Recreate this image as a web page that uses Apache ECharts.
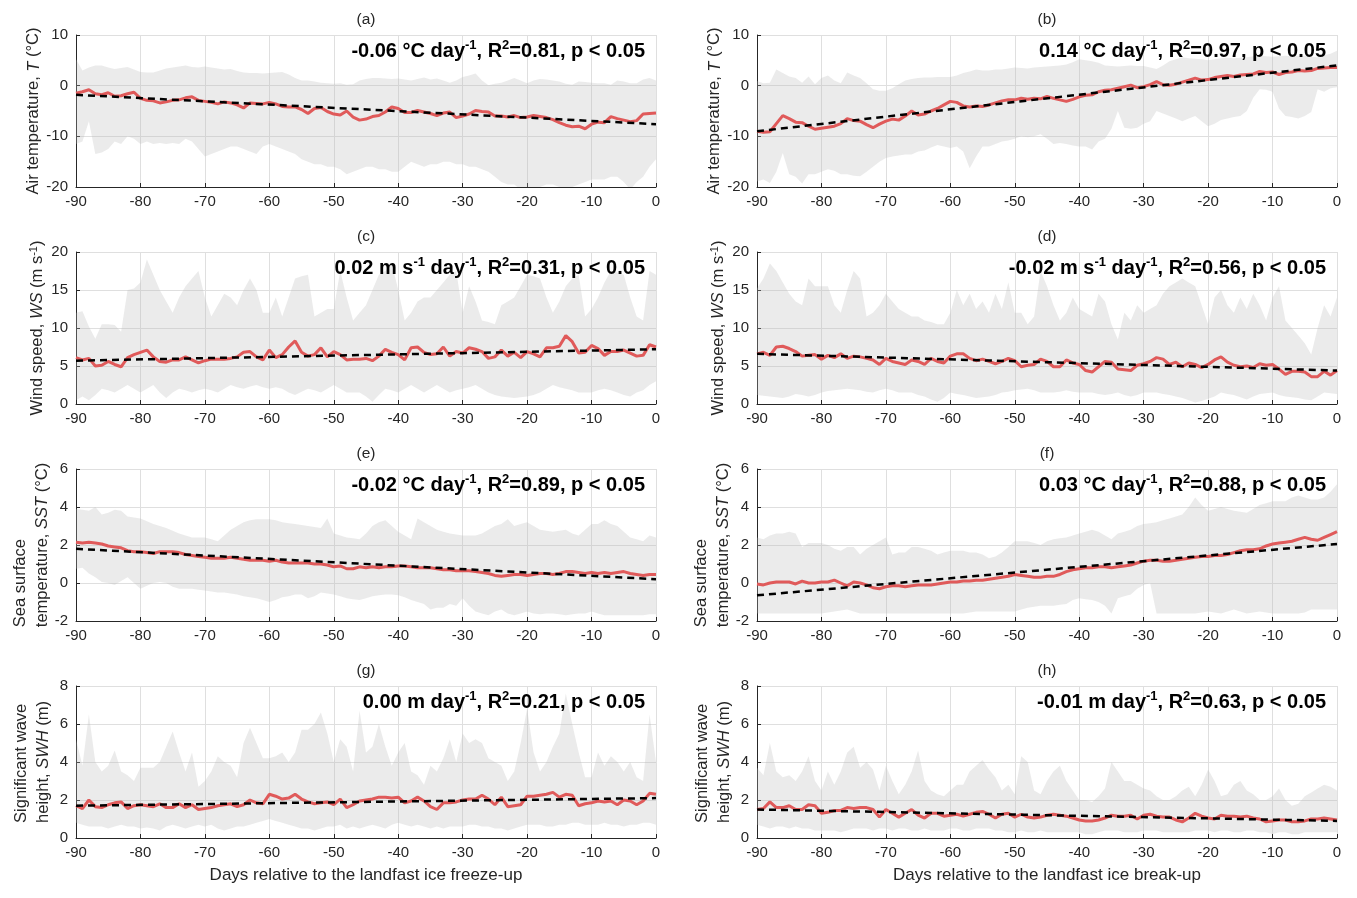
<!DOCTYPE html>
<html><head><meta charset="utf-8">
<script src="https://cdn.jsdelivr.net/npm/echarts@6/dist/echarts.min.js"></script>
<style>html,body{margin:0;padding:0;background:#fff}#c{width:1357px;height:898px}</style>
</head><body><div id="c"></div>
<script>
// ---------------- DATA ----------------
const days = [-90,-89,-88,-87,-86,-85,-84,-83,-82,-81,-80,-79,-78,-77,-76,-75,-74,-73,-72,-71,
-70,-69,-68,-67,-66,-65,-64,-63,-62,-61,-60,-59,-58,-57,-56,-55,-54,-53,-52,-51,
-50,-49,-48,-47,-46,-45,-44,-43,-42,-41,-40,-39,-38,-37,-36,-35,-34,-33,-32,-31,
-30,-29,-28,-27,-26,-25,-24,-23,-22,-21,-20,-19,-18,-17,-16,-15,-14,-13,-12,-11,
-10,-9,-8,-7,-6,-5,-4,-3,-2,-1,0];

// (a) Air temperature, freeze-up
const aMean = [-1.5,-1.2,-0.8,-1.6,-1.8,-1.4,-2.1,-2.0,-1.6,-1.3,
-2.5,-2.9,-3.0,-3.4,-3.2,-2.9,-2.8,-2.4,-2.2,-2.9,
-3.1,-3.3,-3.6,-3.2,-3.4,-3.8,-4.4,-3.4,-3.5,-3.6,
-3.3,-3.6,-4.1,-4.2,-4.2,-4.7,-5.5,-4.5,-4.3,-5.1,
-5.6,-5.8,-5.0,-6.2,-6.8,-6.6,-6.1,-5.9,-5.2,-4.2,
-4.5,-5.3,-5.3,-4.9,-5.2,-5.5,-5.9,-5.4,-5.2,-6.3,
-6.0,-5.6,-4.9,-5.1,-5.2,-6.0,-6.0,-6.2,-5.9,-6.3,
-6.2,-5.9,-6.1,-6.3,-6.7,-7.3,-7.8,-8.1,-8.0,-8.5,
-7.6,-7.2,-7.3,-6.1,-6.5,-6.8,-7.1,-6.9,-5.6,-5.5,
-5.4];
const aUpper = [5.2,3.0,3.6,4.0,4.0,3.6,3.3,3.5,3.7,3.2,
2.7,2.6,2.6,3.0,3.4,3.6,3.8,4.0,3.7,3.6,
3.8,3.6,3.4,3.2,3.3,2.9,2.6,2.5,2.5,2.4,
2.5,2.6,2.7,2.2,1.5,1.0,1.0,0.8,0.6,0.5,
0.4,0.5,0.2,0.3,1.0,1.3,1.5,1.5,1.4,1.3,
1.4,1.2,1.0,1.3,1.6,1.2,1.4,1.0,0.6,1.0,
1.7,2.0,2.4,1.0,0.1,0.4,0.6,1.0,1.5,1.0,
0.5,1.0,1.3,1.2,1.0,0.8,0.4,0.2,0.8,0.7,
0.6,0.5,0.5,0.2,1.0,0.8,0.5,0.5,1.2,1.5,
1.0];
const aLower = [-11.5,-11.0,-7.0,-13.5,-13.2,-12.5,-11.0,-11.5,-10.0,-10.5,
-11.5,-11.0,-11.5,-11.3,-11.5,-11.3,-11.5,-10.5,-11.0,-12.5,
-14.0,-13.5,-13.0,-12.5,-12.0,-12.0,-12.5,-13.0,-13.5,-12.0,
-11.5,-12.0,-12.5,-13.0,-13.5,-14.5,-15.0,-15.5,-15.5,-16.0,
-16.0,-16.5,-17.5,-17.0,-16.5,-16.0,-16.0,-16.5,-16.5,-17.0,
-17.0,-16.0,-15.0,-15.5,-16.0,-15.5,-15.5,-15.0,-15.0,-15.5,
-15.5,-16.0,-16.0,-16.5,-17.0,-18.0,-19.0,-19.5,-19.5,-20.5,
-20.5,-20.5,-20.0,-19.5,-19.5,-20.0,-20.5,-20.0,-19.5,-19.0,
-18.5,-18.5,-18.5,-18.0,-18.0,-19.0,-20.5,-19.0,-18.0,-16.0,
-14.5];
const aTrend = [-1.8, -7.6];

// (b) Air temperature, break-up
const bMean = [-9.0,-9.2,-9.1,-7.5,-5.9,-6.5,-7.2,-7.3,-8.0,-8.6,
-8.4,-8.2,-8.0,-7.5,-6.5,-6.9,-7.0,-7.7,-8.3,-7.6,
-7.0,-6.6,-6.8,-6.0,-5.0,-5.8,-5.6,-5.0,-4.5,-3.8,
-3.1,-3.3,-4.0,-4.2,-4.0,-4.1,-3.8,-3.4,-3.0,-2.8,
-2.8,-2.5,-2.7,-2.5,-2.6,-2.1,-2.5,-2.8,-3.1,-2.7,
-2.2,-1.9,-1.8,-1.2,-0.9,-0.8,-0.5,-0.2,0.1,-0.4,
-0.2,0.2,0.8,0.2,0.1,0.3,0.7,1.1,1.5,1.1,
1.2,1.6,1.8,2.0,1.8,2.1,2.2,2.3,2.8,2.6,
2.7,2.2,2.6,2.7,3.0,2.9,3.0,3.4,3.5,3.6,
3.6];
const bUpper = [0.9,0.5,0.6,3.2,2.5,1.8,1.5,0.6,1.8,0.3,
1.5,2.0,1.0,0.5,2.6,2.0,1.5,0.5,-0.7,-1.0,
-1.0,-0.5,0.3,1.0,1.3,1.5,1.6,1.6,1.7,1.7,
1.7,2.0,2.5,2.8,3.2,3.0,3.0,3.2,3.2,3.4,
3.6,3.5,3.4,3.6,3.7,3.8,3.9,4.0,4.2,4.6,
5.2,5.0,4.8,4.5,4.0,3.9,3.8,3.9,4.0,3.9,
3.9,3.6,3.3,4.0,4.8,5.2,5.6,5.4,5.3,5.2,
5.0,5.2,5.4,5.5,5.4,5.5,5.6,5.8,5.9,5.8,
5.7,5.8,5.9,5.8,5.9,5.9,5.7,5.6,6.0,6.3,
6.9];
const bLower = [-18.9,-18.5,-19.2,-17.0,-13.3,-17.5,-18.0,-19.3,-17.5,-17.5,
-17.0,-16.5,-16.8,-17.5,-17.5,-17.8,-17.9,-17.0,-16.0,-15.0,
-14.3,-14.0,-13.8,-13.6,-13.6,-13.0,-12.8,-12.2,-11.7,-12.0,
-12.3,-12.0,-13.0,-16.3,-14.0,-12.0,-12.0,-11.5,-11.0,-10.8,
-10.5,-10.0,-10.2,-10.0,-9.6,-10.5,-11.5,-11.3,-11.5,-11.8,
-12.0,-12.0,-12.6,-11.0,-10.5,-8.5,-5.0,-8.3,-8.5,-8.3,
-7.5,-7.0,-5.0,-5.5,-6.0,-6.5,-7.0,-6.5,-6.0,-7.0,
-8.0,-7.5,-6.8,-6.5,-6.2,-6.0,-5.0,-2.4,-0.7,-0.8,
-1.2,-4.5,-6.0,-6.2,-6.5,-6.0,-5.2,-0.7,-1.2,-0.5,
-0.3];
const bTrend = [-9.0, 4.0];

// (c) Wind speed, freeze-up
const cMean = [6.1,5.8,6.0,5.0,5.1,5.6,5.2,4.9,6.1,6.5,
6.8,7.1,6.2,5.6,5.5,5.8,5.8,6.2,5.8,5.4,
5.7,5.9,5.9,5.9,6.0,6.2,6.8,6.9,6.2,5.8,
7.1,6.1,6.5,7.5,8.3,6.8,6.3,6.5,7.4,6.2,
6.9,6.5,5.8,5.9,5.9,6.0,5.7,6.3,7.2,6.8,
6.5,5.8,7.4,7.5,6.8,6.5,6.6,7.5,6.3,6.9,
6.7,7.4,7.2,6.9,6.0,6.2,7.1,6.3,6.8,6.1,
6.9,6.6,6.2,7.4,7.4,7.6,9.0,8.2,6.7,6.8,
7.7,7.3,6.4,6.9,6.9,7.1,6.7,6.3,6.4,7.8,
7.5];
const cUpper = [12.0,12.2,10.2,8.6,10.5,10.5,10.4,9.5,15.0,15.2,
16.0,19.0,17.0,15.0,13.5,12.0,14.0,15.5,16.5,17.5,
14.0,11.5,13.0,14.5,14.0,13.0,15.0,16.5,15.0,12.0,
12.0,14.0,11.5,14.0,16.5,16.8,17.0,11.5,12.0,12.5,
12.5,17.5,14.0,11.0,12.0,13.0,15.0,17.0,17.5,18.5,
15.0,11.0,12.0,13.5,14.0,14.0,15.0,16.0,17.0,17.5,
12.0,15.5,13.5,11.0,10.8,10.5,13.0,13.5,14.0,15.5,
17.0,16.8,16.5,14.0,12.0,13.5,15.5,16.5,17.0,11.5,
12.5,14.0,16.0,17.5,17.3,17.0,14.0,11.5,11.0,17.5,
17.0];
const cLower = [0.5,1.0,0.5,1.2,2.0,1.8,1.5,2.0,2.5,2.0,
1.5,2.0,2.5,1.5,0.8,1.5,2.0,1.8,1.5,1.8,
2.0,1.8,1.5,2.0,2.5,2.2,2.0,2.3,2.5,2.2,
2.0,2.2,2.0,1.5,1.2,1.6,2.0,1.8,1.5,2.0,
2.5,2.0,1.5,1.5,1.5,1.0,0.3,1.2,2.0,1.8,
1.5,2.0,2.5,2.0,1.5,2.0,2.5,2.0,1.5,1.8,
2.0,2.2,2.5,2.0,1.5,1.2,1.0,0.9,0.8,0.9,
1.0,1.2,1.5,2.0,2.5,2.2,2.0,1.8,1.5,1.5,
1.5,1.8,2.0,1.8,1.5,1.2,1.0,1.5,1.8,2.5,
3.0];
const cTrend = [5.7, 7.2];

// (d) Wind speed, break-up
const dMean = [6.6,6.8,6.4,7.5,7.6,7.3,6.9,6.3,6.4,6.5,
5.9,6.4,6.1,6.6,6.0,6.3,6.2,6.0,5.8,5.2,
6.0,5.6,5.4,5.2,5.8,5.6,5.2,6.0,5.6,5.4,
6.3,6.6,6.6,6.0,5.7,5.9,5.6,5.3,5.6,6.0,
5.7,4.9,5.1,5.2,5.9,5.6,4.9,4.9,5.8,5.4,
5.2,4.4,4.2,4.9,5.6,5.5,4.6,4.5,4.4,5.1,
5.3,5.6,6.1,5.9,5.2,5.5,4.9,5.4,5.2,4.8,
5.2,5.8,6.2,5.5,5.1,4.9,5.0,4.8,5.3,5.1,
5.2,4.6,3.9,4.3,4.3,4.2,3.6,3.6,4.3,3.8,
4.4];
const dUpper = [15.2,16.5,18.5,17.5,16.0,14.5,13.5,13.0,16.5,15.5,
15.5,15.5,13.0,12.0,15.0,17.5,16.5,11.5,12.0,13.0,
14.5,13.5,12.5,12.0,11.5,11.5,11.0,10.8,10.5,10.5,
12.0,15.0,13.0,14.5,12.5,13.5,12.0,14.5,12.5,16.0,
12.0,12.0,10.5,11.5,17.5,15.5,13.0,11.0,12.0,14.0,
12.5,12.0,11.5,14.5,13.5,10.5,8.5,12.0,11.0,13.0,
12.0,12.5,13.0,14.5,15.5,16.0,16.5,16.0,15.5,13.0,
10.5,14.0,15.0,13.0,12.0,14.0,12.5,14.5,13.0,11.0,
14.0,15.5,11.0,10.0,9.0,8.0,6.5,10.0,13.0,11.5,
14.0];
const dLower = [1.2,1.1,1.0,0.9,0.8,1.0,1.3,1.2,1.0,1.2,
1.5,1.7,1.8,1.9,2.0,1.9,1.8,1.6,1.5,1.8,
2.0,1.8,1.5,1.5,1.5,1.2,1.0,0.6,0.3,0.8,
1.5,1.3,1.2,1.0,0.8,0.9,1.0,1.2,1.5,1.6,
1.8,1.9,2.0,1.8,1.5,1.5,1.5,1.6,1.8,1.6,
1.5,1.5,1.5,1.3,1.2,1.3,1.5,1.2,1.0,1.2,
1.5,1.5,1.5,1.3,1.2,1.0,0.8,0.5,0.2,0.4,
0.7,1.0,1.5,1.3,1.2,0.9,0.6,1.0,1.3,1.4,
1.5,1.2,1.0,0.9,0.8,0.6,0.5,1.0,1.5,1.4,
1.3];
const dTrend = [6.6, 4.4];

// (e) SST, freeze-up
const eMean = [2.15,2.1,2.15,2.1,2.05,1.95,1.9,1.85,1.7,1.65,
1.65,1.6,1.55,1.65,1.65,1.65,1.6,1.5,1.45,1.4,
1.35,1.3,1.3,1.3,1.35,1.3,1.25,1.2,1.2,1.2,
1.15,1.2,1.1,1.05,1.05,1.05,1.05,1.0,1.0,0.95,
0.85,0.9,0.75,0.75,0.85,0.8,0.85,0.8,0.85,0.85,
0.9,0.9,0.85,0.8,0.8,0.8,0.75,0.7,0.7,0.65,
0.65,0.65,0.6,0.55,0.5,0.4,0.35,0.4,0.45,0.45,
0.4,0.45,0.5,0.5,0.45,0.5,0.6,0.6,0.55,0.5,
0.55,0.5,0.55,0.5,0.55,0.6,0.5,0.45,0.4,0.45,
0.45];
const eUpper = [3.9,3.85,3.8,4.0,3.6,3.7,3.85,3.8,3.5,3.45,
3.4,3.25,3.1,3.0,2.9,2.75,2.6,2.5,2.4,2.4,
2.4,2.3,2.2,2.5,2.8,3.0,3.2,3.3,3.35,3.35,
3.35,3.3,3.2,3.15,3.1,3.05,3.0,2.95,2.9,3.4,
2.6,2.5,2.4,2.35,2.3,2.6,3.0,3.2,3.3,3.0,
2.7,2.5,2.3,3.4,3.2,3.0,2.8,2.7,2.6,2.55,
2.5,2.5,2.5,2.6,2.8,3.0,3.1,3.35,3.0,3.1,
3.2,3.0,2.8,2.75,2.7,2.75,2.8,2.6,2.5,2.8,
3.1,3.1,3.3,3.1,3.0,2.7,2.4,2.3,2.2,2.5,
2.4];
const eLower = [0.75,0.8,0.5,0.3,0.05,0.0,-0.1,0.1,0.3,0.0,
-0.3,-0.15,0.0,0.05,0.0,-0.2,-0.3,-0.3,-0.3,-0.35,
-0.4,-0.45,-0.5,-0.5,-0.55,-0.6,-0.7,-0.75,-0.8,-0.9,
-1.0,-0.9,-0.75,-0.7,-0.6,-0.6,-0.8,-0.7,-0.5,-0.55,
-0.6,-0.7,-0.8,-0.85,-0.9,-0.8,-0.7,-0.65,-0.6,-0.6,
-0.65,-0.75,-0.9,-1.0,-1.1,-1.4,-1.3,-1.3,-1.1,-1.2,
-0.8,-1.2,-1.5,-1.6,-1.7,-1.5,-1.4,-1.6,-1.7,-1.6,
-1.5,-1.6,-1.65,-1.6,-1.6,-1.65,-1.7,-1.65,-1.6,-1.6,
-1.5,-1.6,-1.7,-1.7,-1.7,-1.7,-1.7,-1.7,-1.7,-1.65,
-1.65];
const eTrend = [1.8, 0.2];

// (f) SST, break-up
const fMean = [-0.05,-0.1,0.0,0.05,0.05,0.05,-0.05,0.1,0.0,0.0,
0.05,0.05,0.15,0.0,-0.15,0.05,0.0,-0.1,-0.25,-0.3,
-0.2,-0.15,-0.15,-0.2,-0.15,-0.1,-0.1,-0.1,-0.05,0.0,
0.05,0.05,0.1,0.1,0.15,0.15,0.2,0.25,0.3,0.35,
0.45,0.4,0.35,0.3,0.3,0.35,0.35,0.45,0.6,0.7,
0.75,0.8,0.8,0.85,0.85,0.8,0.85,0.9,0.95,1.05,
1.15,1.2,1.2,1.15,1.15,1.2,1.25,1.3,1.35,1.4,
1.4,1.45,1.45,1.5,1.6,1.7,1.75,1.75,1.8,1.95,
2.05,2.1,2.15,2.2,2.3,2.4,2.3,2.25,2.4,2.55,
2.7];
const fUpper = [2.4,2.3,2.5,2.6,2.6,2.7,2.6,1.9,2.1,2.1,
2.1,2.0,1.8,1.7,1.9,1.9,1.5,1.8,2.0,2.2,
2.4,1.5,1.6,1.6,1.9,1.9,1.8,1.7,1.5,1.6,
1.7,1.7,1.7,1.6,1.6,1.5,1.3,1.4,1.6,1.9,
2.2,2.2,2.2,2.1,2.0,2.2,2.3,2.35,2.4,2.5,
2.6,2.7,2.8,2.7,2.5,2.3,2.6,2.7,2.8,3.0,
3.1,3.15,3.2,3.3,3.4,3.5,3.6,4.0,4.5,4.1,
3.8,3.9,4.0,3.9,3.8,3.75,3.7,3.9,4.1,4.2,
4.3,4.3,4.3,4.5,4.6,4.5,4.4,4.4,4.5,4.8,
5.2];
const fLower = [-1.6,-1.6,-1.6,-1.6,-1.6,-1.6,-1.6,-1.6,-1.6,-1.6,
-1.6,-1.55,-1.5,-1.45,-1.4,-1.5,-1.6,-1.6,-1.6,-1.6,
-1.6,-1.6,-1.6,-1.6,-1.6,-1.6,-1.6,-1.6,-1.6,-1.6,
-1.6,-1.6,-1.6,-1.55,-1.5,-1.5,-1.5,-1.5,-1.5,-1.5,
-1.5,-1.4,-1.3,-1.25,-1.2,-1.2,-1.2,-1.15,-1.1,-0.9,
-0.8,-0.85,-0.9,-1.0,-1.2,-1.6,-0.8,-0.7,-0.6,-0.3,
-0.1,0.0,-1.6,-1.6,-1.6,-1.6,-1.6,-1.6,-1.6,-1.55,
-1.5,-1.55,-1.6,-1.5,-1.4,-1.5,-1.6,-1.55,-1.5,-1.55,
-1.6,-1.6,-1.6,-1.6,-1.6,-1.55,-1.4,-1.4,-1.4,-1.4,
-1.4];
const fTrend = [-0.65, 2.05];

// (g) SWH, freeze-up
const gMean = [1.7,1.55,2.0,1.65,1.6,1.75,1.85,1.9,1.55,1.7,
1.75,1.7,1.65,1.8,1.6,1.6,1.8,1.6,1.75,1.5,
1.55,1.6,1.7,1.75,1.8,1.65,1.75,2.0,1.85,1.8,
2.3,2.2,2.05,2.1,2.3,2.05,1.9,1.8,1.85,1.9,
1.75,2.05,1.6,1.75,1.95,2.0,2.05,2.15,2.15,2.1,
2.15,1.85,1.95,2.15,1.95,1.65,1.5,1.85,1.85,1.9,
2.0,2.05,2.05,2.25,2.05,1.75,2.15,1.65,1.7,1.75,
2.2,2.2,2.25,2.3,2.4,2.15,2.3,2.25,1.7,1.8,
1.85,1.95,1.9,1.95,1.75,2.0,1.95,1.75,1.95,2.35,
2.3];
const gUpper = [5.2,3.8,6.5,4.0,3.5,3.8,4.6,3.5,3.3,3.0,
3.7,3.7,3.7,4.0,4.8,5.6,4.5,3.5,4.5,2.7,
3.0,3.5,4.3,4.0,3.8,3.2,5.0,5.8,5.0,4.2,
4.2,4.3,4.5,4.0,4.5,5.7,5.7,6.0,6.6,5.5,
4.0,5.2,4.8,3.5,6.7,4.5,4.8,6.0,4.8,3.8,
4.5,5.0,3.5,3.3,2.8,3.8,3.5,4.2,5.2,4.0,
5.5,5.0,5.2,5.0,4.2,4.0,3.8,3.0,3.5,5.0,
6.8,4.5,3.5,4.0,4.8,5.5,7.6,6.0,4.5,3.2,
3.2,4.5,3.8,4.3,4.0,3.5,4.0,3.2,3.0,6.5,
4.0];
const gLower = [0.8,0.7,0.6,0.6,0.6,0.5,0.6,0.7,0.6,0.6,
0.5,0.55,0.5,0.4,0.6,0.7,0.6,0.5,0.6,0.7,
0.6,0.7,0.5,0.4,0.5,0.6,0.6,0.7,0.8,0.9,
1.0,0.9,0.8,0.7,0.6,0.5,0.5,0.4,0.5,0.6,
0.6,0.7,0.5,0.6,0.5,0.6,0.7,0.6,0.5,0.7,
0.8,0.7,0.6,0.7,0.6,0.5,0.6,0.5,0.6,0.6,
0.6,0.7,0.7,0.6,0.6,0.5,0.5,0.4,0.5,0.6,
0.7,0.7,0.7,0.6,0.6,0.7,0.7,0.8,0.8,0.7,
0.7,0.7,0.8,0.7,0.7,0.6,0.7,0.7,0.8,0.8,
0.7];
const gTrend = [1.7, 2.1];

// (h) SWH, break-up
const hMean = [1.5,1.55,1.9,1.6,1.6,1.7,1.5,1.5,1.75,1.7,
1.3,1.35,1.45,1.45,1.6,1.55,1.6,1.6,1.5,1.1,
1.5,1.3,1.1,1.3,1.5,1.2,1.05,1.3,1.3,1.15,
1.2,1.25,1.15,1.25,1.35,1.4,1.25,1.05,1.25,1.3,
1.1,1.25,1.1,1.05,1.1,1.2,1.25,1.2,1.15,1.05,
0.95,0.9,0.9,0.95,1.05,1.2,1.15,1.15,1.2,1.0,
1.2,1.25,1.15,1.1,1.1,0.95,0.85,1.05,1.3,1.15,
1.05,1.0,1.2,1.15,1.15,1.1,1.15,1.05,1.0,0.85,
0.9,0.95,0.95,0.85,0.85,0.9,1.0,1.0,1.05,1.0,
0.95];
const hUpper = [3.7,3.3,5.0,3.5,3.2,3.3,3.0,3.5,4.3,3.0,
2.5,3.5,2.8,3.5,4.5,4.8,3.7,4.0,3.6,2.5,
3.8,3.0,2.3,2.8,3.5,4.6,3.0,2.5,2.3,2.2,
2.5,2.8,2.8,3.5,3.8,4.1,3.6,3.2,2.5,2.8,
2.3,4.3,4.0,2.5,2.3,3.0,3.5,3.8,3.0,2.5,
2.0,2.0,1.9,2.2,2.6,4.0,3.5,3.0,3.0,2.8,
2.6,2.5,2.2,2.0,2.0,2.2,2.5,2.7,2.2,2.8,
3.6,3.0,2.2,2.3,2.8,3.0,2.5,2.3,2.0,2.0,
2.2,2.6,2.0,1.7,1.8,2.2,2.4,2.6,2.8,2.7,
2.5];
const hLower = [0.7,0.6,0.5,0.6,0.6,0.5,0.6,0.5,0.5,0.4,
0.4,0.4,0.4,0.3,0.4,0.5,0.5,0.5,0.4,0.5,
0.5,0.4,0.5,0.5,0.4,0.4,0.5,0.4,0.4,0.4,
0.5,0.5,0.4,0.4,0.5,0.5,0.5,0.4,0.4,0.3,
0.3,0.4,0.3,0.3,0.4,0.3,0.3,0.3,0.3,0.3,
0.3,0.2,0.2,0.3,0.4,0.4,0.4,0.3,0.3,0.3,
0.4,0.4,0.4,0.3,0.3,0.3,0.3,0.3,0.4,0.4,
0.4,0.3,0.4,0.4,0.3,0.3,0.4,0.4,0.3,0.3,
0.2,0.3,0.3,0.2,0.2,0.3,0.3,0.3,0.3,0.3,
0.3];
const hTrend = [1.5, 0.9];

// Labels / texts
const panelLetters = ['(a)','(b)','(c)','(d)','(e)','(f)','(g)','(h)'];
const trendNotes = [
  '{b|-0.06 °C day}{s|-1}{b|, R}{s|2}{b|=0.81, p < 0.05}',
  '{b|0.14 °C day}{s|-1}{b|, R}{s|2}{b|=0.97, p < 0.05}',
  '{b|0.02 m s}{s|-1}{b| day}{s|-1}{b|, R}{s|2}{b|=0.31, p < 0.05}',
  '{b|-0.02 m s}{s|-1}{b| day}{s|-1}{b|, R}{s|2}{b|=0.56, p < 0.05}',
  '{b|-0.02 °C day}{s|-1}{b|, R}{s|2}{b|=0.89, p < 0.05}',
  '{b|0.03 °C day}{s|-1}{b|, R}{s|2}{b|=0.88, p < 0.05}',
  '{b|0.00 m day}{s|-1}{b|, R}{s|2}{b|=0.21, p < 0.05}',
  '{b|-0.01 m day}{s|-1}{b|, R}{s|2}{b|=0.63, p < 0.05}'
];
const yNames = [
  '{n|Air temperature, }{i|T}{n| (°C)}',
  '{n|Wind speed, }{i|WS}{n| (m s}{s|-1}{n|)}',
  '{n|Sea surface}\n{n|temperature, }{i|SST}{n| (°C)}',
  '{n|Significant wave}\n{n|height, }{i|SWH}{n| (m)}'
];
const xNames = ['Days relative to the landfast ice freeze-up', 'Days relative to the landfast ice break-up'];
const yRanges = [[-20, 10, 10], [0, 20, 5], [-2, 6, 2], [0, 8, 2]];

const panels = [
  {mean: aMean, upper: aUpper, lower: aLower, trend: aTrend},
  {mean: bMean, upper: bUpper, lower: bLower, trend: bTrend},
  {mean: cMean, upper: cUpper, lower: cLower, trend: cTrend},
  {mean: dMean, upper: dUpper, lower: dLower, trend: dTrend},
  {mean: eMean, upper: eUpper, lower: eLower, trend: eTrend},
  {mean: fMean, upper: fUpper, lower: fLower, trend: fTrend},
  {mean: gMean, upper: gUpper, lower: gLower, trend: gTrend},
  {mean: hMean, upper: hUpper, lower: hLower, trend: hTrend}
];

// ---------------- LAYOUT / STYLE ----------------
const FONT = "'Liberation Sans', Arial, Helvetica, sans-serif";
const colLeft = [76, 757];
const rowTop = [35, 252, 469, 686];
const plotW = 580, plotH = 152;
const axisColor = '#262626';
const TICK_FS = 15, YNAME_FS = 16.5, XNAME_FS = 17, NOTE_FS = 20, LETTER_FS = 15.5;

const grids = [], xAxes = [], yAxes = [], series = [], graphics = [];

panels.forEach((p, i) => {
  const col = i % 2, row = Math.floor(i / 2);
  const left = colLeft[col], top = rowTop[row];
  const yr = yRanges[row];
  const twoLine = row >= 2;
  const lh = twoLine ? 21.5 : 19;
  grids.push({left: left, top: top, width: plotW, height: plotH, containLabel: false});
  xAxes.push({
    gridIndex: i, type: 'value', min: -90, max: 0, interval: 10,
    axisLine: {onZero: false, lineStyle: {color: axisColor, width: 1}},
    axisTick: {inside: true, length: 4, lineStyle: {color: axisColor}},
    axisLabel: {margin: 7, fontSize: TICK_FS, color: axisColor, fontFamily: FONT,
      formatter: v => String(v)},
    splitLine: {show: true, lineStyle: {color: '#dfdfdf', width: 1}},
    name: row === 3 ? xNames[col] : '',
    nameLocation: 'middle', nameGap: 29,
    nameTextStyle: {fontSize: XNAME_FS, color: axisColor, fontFamily: FONT}
  });
  yAxes.push({
    gridIndex: i, type: 'value', min: yr[0], max: yr[1], interval: yr[2],
    axisLine: {show: true, onZero: false, lineStyle: {color: axisColor, width: 1}},
    axisTick: {show: true, inside: true, length: 4, lineStyle: {color: axisColor}},
    axisLabel: {margin: 8, fontSize: TICK_FS, color: axisColor, fontFamily: FONT},
    splitLine: {show: true, lineStyle: {color: '#dfdfdf', width: 1}},
    name: yNames[row], nameLocation: 'middle', nameRotate: 90,
    nameGap: twoLine ? 22 : 29,
    nameTextStyle: {
      color: axisColor, fontFamily: FONT, fontSize: YNAME_FS,
      rich: {
        n: {fontSize: YNAME_FS, fontFamily: FONT, color: axisColor, lineHeight: lh, align: 'left'},
        i: {fontSize: YNAME_FS, fontFamily: FONT, color: axisColor, fontStyle: 'italic', lineHeight: lh, align: 'left'},
        s: {fontSize: 11, fontFamily: FONT, color: axisColor, lineHeight: 11, verticalAlign: 'top', align: 'left'}
      }
    }
  });
  // band (min-max envelope)
  const up = p.upper, lo = p.lower;
  series.push({
    type: 'custom', xAxisIndex: i, yAxisIndex: i, silent: true, z: 1,
    data: days.map((d, k) => [d, lo[k], up[k]]),
    encode: {x: 0, y: [1, 2]},
    renderItem: (params, api) => {
      if (params.dataIndex !== 0) return null;
      const pts = [];
      for (let k = 0; k < days.length; k++) pts.push(api.coord([days[k], up[k]]));
      for (let k = days.length - 1; k >= 0; k--) pts.push(api.coord([days[k], lo[k]]));
      const cs = params.coordSys;
      return {
        type: 'polygon', shape: {points: pts},
        style: {fill: 'rgba(185,185,185,0.29)', stroke: null},
        clipPath: {type: 'rect', shape: {x: cs.x, y: cs.y, width: cs.width, height: cs.height}}
      };
    }
  });
  series.push({
    type: 'line', xAxisIndex: i, yAxisIndex: i, z: 2, silent: true,
    data: days.map((d, k) => [d, p.mean[k]]),
    symbol: 'none', lineStyle: {color: '#e05a5a', width: 3}
  });
  series.push({
    type: 'line', xAxisIndex: i, yAxisIndex: i, z: 3, silent: true,
    data: [[days[0], p.trend[0]], [days[days.length - 1], p.trend[1]]],
    symbol: 'none', lineStyle: {color: '#000', width: 2.5, type: [7, 5]}
  });
  graphics.push({
    type: 'text', x: left + plotW / 2, y: top - 15, silent: true,
    style: {text: panelLetters[i], fontSize: LETTER_FS, fontFamily: FONT, fill: axisColor, align: 'center', verticalAlign: 'middle'}
  });
  graphics.push({
    type: 'text', x: left + plotW - 11, y: top + 16, silent: true, z: 10,
    style: {
      text: trendNotes[i], align: 'right', verticalAlign: 'middle',
      rich: {
        b: {fontSize: NOTE_FS, fontWeight: 'bold', fontFamily: FONT, fill: '#000', lineHeight: 25},
        s: {fontSize: 13, fontWeight: 'bold', fontFamily: FONT, fill: '#000', lineHeight: 13, verticalAlign: 'top'}
      }
    }
  });
});

const chart = echarts.init(document.getElementById('c'), null, {renderer: 'canvas'});
chart.setOption({
  animation: false,
  backgroundColor: '#fff',
  textStyle: {fontFamily: FONT},
  grid: grids, xAxis: xAxes, yAxis: yAxes, series: series,
  graphic: graphics
});
</script>
</body></html>
